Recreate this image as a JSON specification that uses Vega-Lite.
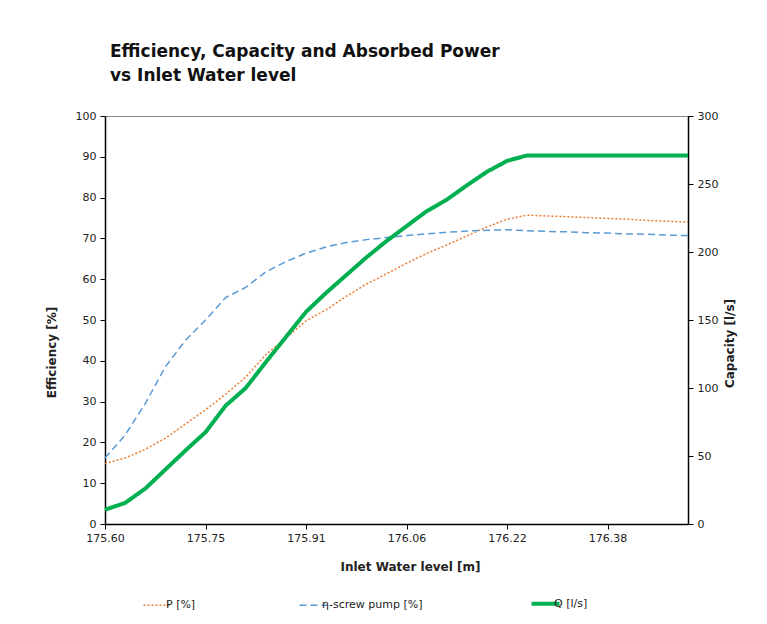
{
  "$schema": "https://vega.github.io/schema/vega-lite/v6.json",
  "width": 583,
  "height": 408,
  "autosize": "none",
  "padding": {"left": 105, "top": 116, "right": 79, "bottom": 100},
  "background": "white",
  "title": {
    "text": ["Efficiency, Capacity and Absorbed Power", "vs Inlet Water level"],
    "anchor": "start",
    "frame": "group",
    "dx": 5,
    "offset": 25,
    "fontSize": 17,
    "font": "DejaVu Sans",
    "fontWeight": "bold",
    "color": "#111",
    "lineHeight": 24
  },
  "data": {
    "values": [
      {"level": 175.6, "P": 14.8, "eta": 16.2, "Q": 10.5},
      {"level": 175.631, "P": 16.2, "eta": 21.8, "Q": 15.5},
      {"level": 175.662, "P": 18.3, "eta": 29.5, "Q": 26},
      {"level": 175.693, "P": 21, "eta": 38.5, "Q": 40},
      {"level": 175.724, "P": 24.5, "eta": 45, "Q": 54},
      {"level": 175.755, "P": 28, "eta": 50, "Q": 67.5},
      {"level": 175.786, "P": 31.8, "eta": 55.5, "Q": 87},
      {"level": 175.817, "P": 36, "eta": 58, "Q": 100},
      {"level": 175.848, "P": 41.5, "eta": 61.8, "Q": 119},
      {"level": 175.879, "P": 45.6, "eta": 64.3, "Q": 137.5},
      {"level": 175.91, "P": 49.8, "eta": 66.4, "Q": 156},
      {"level": 175.941, "P": 52.5, "eta": 67.9, "Q": 170},
      {"level": 175.972, "P": 55.8, "eta": 69, "Q": 183},
      {"level": 176.003, "P": 58.8, "eta": 69.7, "Q": 196},
      {"level": 176.034, "P": 61.3, "eta": 70.2, "Q": 208},
      {"level": 176.065, "P": 63.9, "eta": 70.7, "Q": 219},
      {"level": 176.096, "P": 66.3, "eta": 71.1, "Q": 230},
      {"level": 176.127, "P": 68.4, "eta": 71.5, "Q": 238.5},
      {"level": 176.158, "P": 70.6, "eta": 71.8, "Q": 249},
      {"level": 176.189, "P": 72.8, "eta": 72.0, "Q": 259},
      {"level": 176.22, "P": 74.7, "eta": 72.1, "Q": 267},
      {"level": 176.251, "P": 75.7, "eta": 71.9, "Q": 271},
      {"level": 176.282, "P": 75.5, "eta": 71.7, "Q": 271},
      {"level": 176.313, "P": 75.3, "eta": 71.6, "Q": 271},
      {"level": 176.344, "P": 75.1, "eta": 71.4, "Q": 271},
      {"level": 176.375, "P": 74.9, "eta": 71.3, "Q": 271},
      {"level": 176.406, "P": 74.7, "eta": 71.1, "Q": 271},
      {"level": 176.437, "P": 74.4, "eta": 71.0, "Q": 271},
      {"level": 176.468, "P": 74.2, "eta": 70.8, "Q": 271},
      {"level": 176.499, "P": 74.0, "eta": 70.7, "Q": 271}
    ]
  },
  "config": {
    "view": {"stroke": "#888", "strokeWidth": 1},
    "axis": {
      "labelFont": "DejaVu Sans",
      "labelFontSize": 11,
      "labelColor": "#222",
      "titleFont": "DejaVu Sans",
      "titleFontSize": 12,
      "titleFontWeight": "bold",
      "titleColor": "#222",
      "domainColor": "#000",
      "domainWidth": 1.5,
      "tickColor": "#000",
      "tickSize": 5,
      "grid": false
    },
    "legend": {
      "labelFont": "DejaVu Sans",
      "labelFontSize": 11,
      "labelColor": "#222"
    }
  },
  "encoding": {
    "x": {
      "field": "level",
      "type": "quantitative",
      "scale": {"domain": [175.6, 176.499], "nice": false, "zero": false},
      "axis": {
        "values": [175.6, 175.755, 175.91, 176.065, 176.22, 176.375],
        "labelExpr": "datum.value < 175.7 ? '175.60' : datum.value < 175.8 ? '175.75' : datum.value < 176 ? '175.91' : datum.value < 176.1 ? '176.06' : datum.value < 176.3 ? '176.22' : '176.38'",
        "labelFlush": false,
        "title": "Inlet Water level [m]",
        "titleX": 305,
        "titleY": 42,
        "titleBaseline": "middle",
        "labelPadding": 3
      }
    }
  },
  "layer": [
    {
      "transform": [{"fold": ["P", "eta"], "as": ["series", "value"]}],
      "mark": {"type": "line", "strokeWidth": 1.5},
      "encoding": {
        "y": {
          "field": "value",
          "type": "quantitative",
          "scale": {"domain": [0, 100], "nice": false},
          "axis": {
            "title": "Efficiency [%]",
            "values": [0, 10, 20, 30, 40, 50, 60, 70, 80, 90, 100],
            "titleX": -54,
            "titleY": 236,
            "titleAngle": 270,
            "titleBaseline": "middle",
            "titleAlign": "center",
            "labelPadding": 4
          }
        },
        "color": {
          "field": "series",
          "type": "nominal",
          "scale": {"domain": ["P", "eta", "Q"], "range": ["#ED7D31", "#5B9BD5", "#00B050"]},
          "legend": {
            "title": null,
            "orient": "none",
            "legendX": 47,
            "legendY": 482,
            "direction": "horizontal",
            "columnPadding": 100,
            "symbolType": "stroke",
            "symbolSize": 784,
            "labelOffset": 3,
            "symbolStrokeWidth": 1.5,
            "labelExpr": "datum.label == 'P' ? 'P [%]' : datum.label == 'eta' ? 'η-screw pump [%]' : 'Q [l/s]'",
            "encode": {"symbols": {"update": {"strokeWidth": {"signal": "datum.value == 'Q' ? 4 : 1.5"}}}}
          }
        },
        "strokeDash": {
          "field": "series",
          "type": "nominal",
          "scale": {"domain": ["P", "eta", "Q"], "range": [[2, 2], [7, 4], [1, 0]]},
          "legend": {
            "title": null,
            "orient": "none",
            "legendX": 47,
            "legendY": 482,
            "direction": "horizontal",
            "columnPadding": 100,
            "symbolType": "stroke",
            "symbolSize": 784,
            "labelOffset": 3,
            "symbolStrokeWidth": 1.5,
            "labelExpr": "datum.label == 'P' ? 'P [%]' : datum.label == 'eta' ? 'η-screw pump [%]' : 'Q [l/s]'",
            "encode": {"symbols": {"update": {"strokeWidth": {"signal": "datum.value == 'Q' ? 4 : 1.5"}}}}
          }
        }
      }
    },
    {
      "transform": [{"fold": ["Q"], "as": ["series", "value"]}],
      "mark": {"type": "line", "strokeWidth": 4},
      "encoding": {
        "y": {
          "field": "value",
          "type": "quantitative",
          "scale": {"domain": [0, 300], "nice": false},
          "axis": {
            "orient": "right",
            "title": "Capacity [l/s]",
            "values": [0, 50, 100, 150, 200, 250, 300],
            "titleX": 41,
            "titleY": 227,
            "titleAngle": 270,
            "titleBaseline": "middle",
            "titleAlign": "center",
            "labelPadding": 4
          }
        },
        "color": {"field": "series", "type": "nominal"},
        "strokeDash": {"field": "series", "type": "nominal"}
      }
    }
  ],
  "resolve": {"scale": {"y": "independent"}}
}
